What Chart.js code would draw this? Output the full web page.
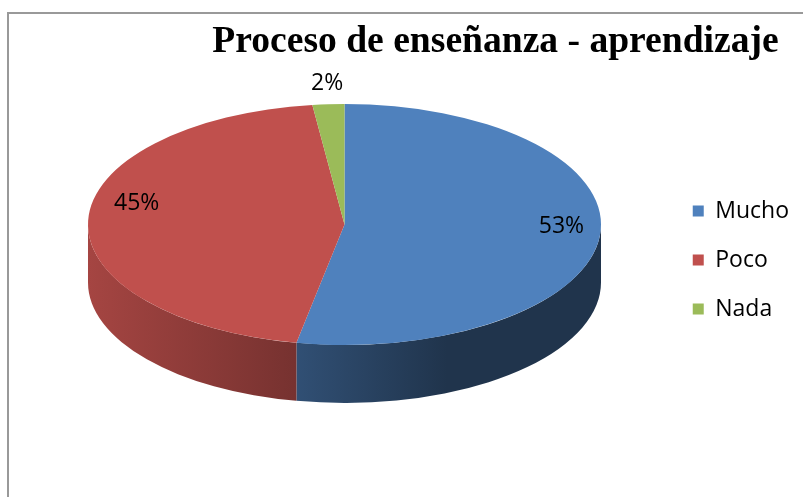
<!DOCTYPE html>
<html><head><meta charset="utf-8">
<script src="https://cdn.jsdelivr.net/npm/chart.js@4/dist/chart.umd.min.js"></script>
<style>
html,body{margin:0;padding:0;background:#fff;}
#wrap{position:relative;width:803px;height:497px;overflow:hidden;background:#fff;}
#frame{position:absolute;left:7px;top:12px;width:900px;height:600px;border-left:2px solid #999;border-top:2px solid #999;}
canvas{position:absolute;left:0;top:0;}
</style></head><body>
<div id="wrap"><div id="frame"></div><canvas id="c" width="803" height="497"></canvas></div>
<script>
const titleText = 'Proceso de enseñanza - aprendizaje';
const categories = ['Mucho', 'Poco', 'Nada'];
const values = [53, 45, 2];
const colors = ['#4F81BD', '#C0504D', '#9BBB59'];

// projected view of the pie (tilted disc)
const VIEW = {cx: 344.5, cy: 224.5, rx: 256.5, ry: 120.5, depth: 58};

function shade(hex, f) {
  const n = parseInt(hex.slice(1), 16);
  const r = Math.round(((n >> 16) & 255) * f), g = Math.round(((n >> 8) & 255) * f), b = Math.round((n & 255) * f);
  return 'rgb(' + r + ',' + g + ',' + b + ')';
}

const pie3d = {
  id: 'pie3d',
  beforeDatasetsDraw(chart) {
    const ctx = chart.ctx;
    const arcs = chart.getDatasetMeta(0).data;
    const a0 = arcs[0];
    const R = a0.outerRadius;
    const {cx, cy, rx, ry, depth} = VIEW;
    arcs.forEach((arc, i) => {
      const s = arc.startAngle, e = arc.endAngle;
      for (let k = -1; k <= 1; k++) {
        const lo = Math.max(s, 2 * Math.PI * k), hi = Math.min(e, 2 * Math.PI * k + Math.PI);
        if (hi - lo <= 1e-6) continue;
        const col = colors[i];
        const g = ctx.createLinearGradient(cx - rx, 0, cx + rx, 0);
        g.addColorStop(0, shade(col, 0.86));
        g.addColorStop(0.4, shade(col, 0.62));
        g.addColorStop(0.7, shade(col, 0.40));
        g.addColorStop(1, shade(col, 0.40));
        ctx.beginPath();
        ctx.ellipse(cx, cy, rx, ry, 0, lo, hi, false);
        ctx.ellipse(cx, cy + depth, rx, ry, 0, hi, lo, true);
        ctx.closePath();
        ctx.fillStyle = g;
        ctx.fill();
      }
    });
    ctx.save();
    ctx.translate(cx, cy);
    ctx.scale(rx / R, ry / R);
    ctx.translate(-a0.x, -a0.y);
  },
  afterDatasetsDraw(chart) {
    const ctx = chart.ctx;
    ctx.restore();
    const arcs = chart.getDatasetMeta(0).data;
    const {cx, cy, rx, ry} = VIEW;
    const total = values.reduce((a, b) => a + b, 0);
    ctx.save();
    ctx.font = '23px "Open Sans"';
    ctx.fillStyle = '#000';
    ctx.textAlign = 'center';
    ctx.textBaseline = 'middle';
    arcs.forEach((arc, i) => {
      const mid = (arc.startAngle + arc.endAngle) / 2;
      const c = Math.cos(mid), s = Math.sin(mid);
      const frac = values[i] / total;
      const txt = Math.round(frac * 100) + '%';
      let x, y;
      if (frac < 0.05) {
        x = cx + rx * c + 21 * c;
        y = cy + ry * s + 21 * s;
      } else {
        x = cx + 0.83 * rx * c + 5;
        y = cy + 1.5 * ry * s - 15;
      }
      ctx.fillText(txt, x, y);
    });
    ctx.restore();
  }
};

new Chart(document.getElementById('c'), {
  type: 'pie',
  data: {
    labels: categories,
    datasets: [{data: values, backgroundColor: colors, borderWidth: 0, clip: false}]
  },
  options: {
    responsive: false,
    animation: false,
    events: [],
    layout: {padding: {left: 192, right: 4, top: 23, bottom: 0}},
    plugins: {
      title: {
        display: true, text: titleText, align: 'center', color: '#000',
        font: {family: '"Times New Roman", "Liberation Serif", serif', size: 37.6, weight: 'bold', lineHeight: 1.0},
        padding: {top: 0, bottom: 10}
      },
      legend: {
        position: 'right', align: 'center',
        labels: {color: '#000', font: {family: '"Open Sans"', size: 23}, boxWidth: 11, boxHeight: 11, padding: 26}
      },
      tooltip: {enabled: false}
    }
  },
  plugins: [pie3d]
});
</script>
</body></html>
